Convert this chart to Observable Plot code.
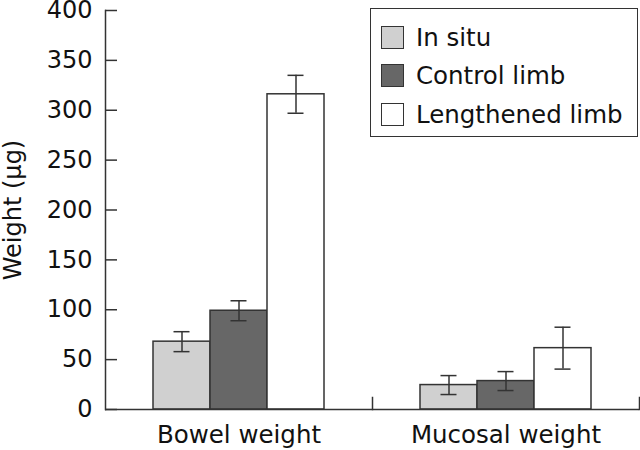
<!DOCTYPE html>
<html>
<head>
<meta charset="utf-8">
<script src="https://cdn.jsdelivr.net/npm/d3@7"></script>
<script src="https://cdn.jsdelivr.net/npm/@observablehq/plot@0.6"></script>
<style>
  html, body { margin: 0; padding: 0; background: #fff; }
  #wrap { position: relative; width: 640px; height: 450px; font-family: "DejaVu Sans", sans-serif; color: #111; }
  #legend { position: absolute; left: 370px; top: 8px; width: 266px; height: 127px; border: 1.5px solid #333; background: #fff; box-sizing: content-box; }
  .row { position: absolute; left: 10px; height: 24px; display: flex; align-items: center; font-size: 24.5px; white-space: nowrap; }
  .sw { width: 21px; height: 21px; border: 1.5px solid #333; margin-right: 12px; flex: none; }
</style>
</head>
<body>
<div id="wrap">
  <div id="chart"></div>
  <div id="legend"></div>
</div>
<script>
const groups = ["Bowel weight", "Mucosal weight"];
const series = ["In situ", "Control limb", "Lengthened limb"];
const colors = ["#d0d0d0", "#676767", "#ffffff"];
const bowelMeans = [68, 99, 316];
const bowelErr = [10, 10, 19];
const mucosalMeans = [24.5, 28.5, 61.5];
const mucosalErr = [9.5, 9.5, 21];
const yTicks = [0, 50, 100, 150, 200, 250, 300, 350, 400];

const means = [bowelMeans, mucosalMeans];
const errs = [bowelErr, mucosalErr];
const data = groups.flatMap((g, gi) => series.map((s, si) => ({
  group: g, series: s, value: means[gi][si], err: errs[gi][si]
})));

const ink = "#333";
const chart = Plot.plot({
  width: 640,
  height: 450,
  marginLeft: 105,
  marginRight: 1,
  marginTop: 10,
  marginBottom: 41,
  style: { fontFamily: "DejaVu Sans, sans-serif", fontSize: "24.5px", color: "#111", background: "#fff", overflow: "visible" },
  fx: { domain: groups, padding: 0, label: null },
  x: { domain: series, paddingInner: 0, paddingOuter: 0.83, axis: null },
  y: { domain: [0, 400], ticks: yTicks, label: "Weight (µg)" },
  color: { domain: series, range: colors },
  marks: [
    Plot.barY(data, { fx: "group", x: "series", y: "value", fill: "series", stroke: ink, strokeWidth: 1.5 }),
    Plot.ruleX(data, { fx: "group", x: "series", y1: d => d.value - d.err, y2: d => d.value + d.err, stroke: ink, strokeWidth: 1.5 }),
    Plot.tickY(data, { fx: "group", x: "series", y: d => d.value - d.err, stroke: ink, strokeWidth: 1.5, insetLeft: 20.5, insetRight: 20.5 }),
    Plot.tickY(data, { fx: "group", x: "series", y: d => d.value + d.err, stroke: ink, strokeWidth: 1.5, insetLeft: 20.5, insetRight: 20.5 }),
    Plot.ruleY([0], { stroke: ink, strokeWidth: 1.5 }),
    Plot.frame({ anchor: "right", insetTop: 387, stroke: ink, strokeWidth: 1.5 }),
    Plot.frame({ anchor: "left", facetAnchor: "left", stroke: ink, strokeWidth: 1.5 }),
    Plot.axisY({ ticks: yTicks, tickSize: -12, fill: "none", label: null, stroke: ink, strokeWidth: 1.5 }),
    Plot.axisY({ ticks: yTicks, tickSize: 0, tickPadding: 13, fontSize: 24, label: "Weight (µg)", labelAnchor: "center", labelArrow: "none", labelOffset: 102 }),
    Plot.axisFx({ anchor: "bottom", tickSize: 0, tickPadding: 16, label: null })
  ]
});
document.getElementById("chart").appendChild(chart);

const legend = document.getElementById("legend");
series.forEach((s, i) => {
  const row = document.createElement("div");
  row.className = "row";
  row.style.top = (16 + i * 38.5) + "px";
  const sw = document.createElement("div");
  sw.className = "sw";
  sw.style.background = colors[i];
  const t = document.createElement("span");
  t.textContent = s;
  row.appendChild(sw);
  row.appendChild(t);
  legend.appendChild(row);
});
</script>
</body>
</html>
